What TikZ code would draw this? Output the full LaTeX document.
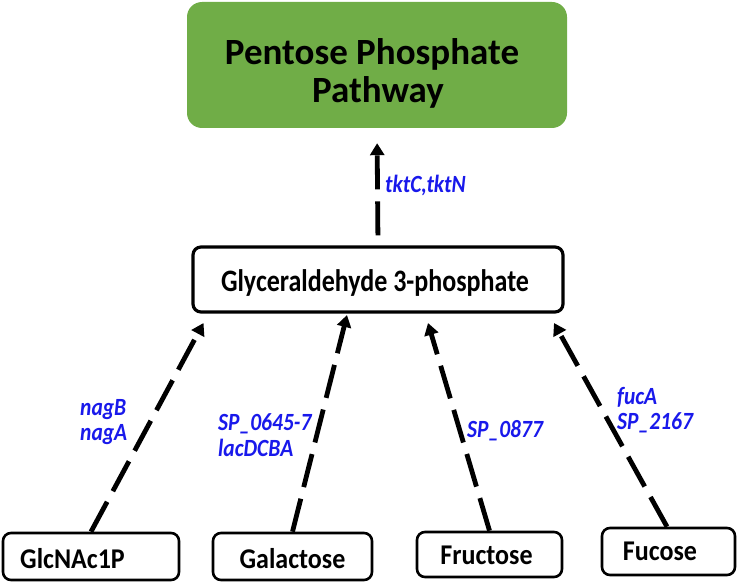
\documentclass[tikz,border=0pt]{standalone}
\usepackage{fontspec}
\usepackage{graphicx}
\setmainfont{Carlito}
\usetikzlibrary{arrows.meta}
\definecolor{ppgreen}{RGB}{112,173,71}
\definecolor{geneblue}{RGB}{25,25,235}
\newcommand\vstr[2][1.15]{\scalebox{1}[#1]{#2}}
\tikzset{
  boxstyle/.style={draw=black, line width=2.6pt, rounded corners=8pt, fill=white, inner sep=0pt},
  boxtext/.style={font=\fontsize{26}{30}\selectfont\bfseries, inner sep=0pt},
  gene/.style={font=\fontsize{21.5}{25}\selectfont\bfseries\itshape, text=geneblue, inner sep=0pt, anchor=base west},
  flow/.style={line width=4.8pt, dash pattern=on 34pt off 12pt, -{Triangle[length=12pt,width=14pt]}},
}
\begin{document}
\begin{tikzpicture}[x=1pt,y=-1pt]
\useasboundingbox (0,0) rectangle (739,583);
% top green box
\node[fill=ppgreen, rounded corners=15pt, minimum width=380pt, minimum height=126pt, inner sep=0pt] (ppp) at (377,65) {};
\node[font=\fontsize{37}{40}\selectfont\bfseries, inner sep=0pt, anchor=base] (ppt1) at (372,65) {Pentose Phosphate};
\node[font=\fontsize{37}{40}\selectfont\bfseries, inner sep=0pt, anchor=base] (ppt2) at (378,103) {Pathway};
% glyceraldehyde box
\node[boxstyle, line width=3.2pt, minimum width=370pt, minimum height=65pt] (g) at (378,279.5) {};
\node[boxtext, anchor=base] (gt) at (375,291) {\vstr[1.2]{Glyceraldehyde 3-phosphate}};
% bottom boxes
\node[boxstyle, minimum width=176pt, minimum height=47pt] (b1) at (91,556.5) {};
\node[boxtext, anchor=base west] (b1t) at (20,568) {\vstr[1.1]{GlcNAc1P}};
\node[boxstyle, minimum width=159pt, minimum height=47pt] (b2) at (292.5,556.5) {};
\node[boxtext, anchor=base] (b2t) at (292.5,568) {\vstr[1.1]{Galactose}};
\node[boxstyle, minimum width=145pt, minimum height=45pt] (b3) at (489.5,554.5) {};
\node[boxtext, anchor=base] (b3t) at (486.5,564.5) {\vstr[1.1]{Fructose}};
\node[boxstyle, minimum width=133pt, minimum height=47pt] (b4) at (668.5,551.5) {};
\node[boxtext, anchor=base] (b4t) at (660,560.5) {\vstr[1.1]{Fucose}};
% arrow end coordinates
\coordinate (t1) at (203.5,323);
\coordinate (t2) at (347,315);
\coordinate (t3) at (428,323);
\coordinate (t4) at (554,323);
% connectors
\draw[flow, shorten <=10pt, shorten >=15pt] (g.north) -- (ppp.south);
\draw[flow] (b1.north) -- (t1);
\draw[flow] (b2.north) -- (t2);
\draw[flow] (b3.north) -- (t3);
\draw[flow] (b4.north -| 667,0) -- (t4);
% gene labels
\node[gene] (l0) at (385,192) {\vstr{tktC,tktN}};
\node[gene] (l1a) at (80,415) {\vstr{nagB}};
\node[gene] (l1b) at (80,440) {\vstr{nagA}};
\node[gene] (l2a) at (218,430) {\vstr{SP\_0645-7}};
\node[gene] (l2b) at (218,456) {\vstr{lacDCBA}};
\node[gene] (l3) at (467,437) {\vstr{SP\_0877}};
\node[gene] (l4a) at (617,404) {\vstr{fucA}};
\node[gene] (l4b) at (617,429) {\vstr{SP\_2167}};
\end{tikzpicture}
\end{document}
